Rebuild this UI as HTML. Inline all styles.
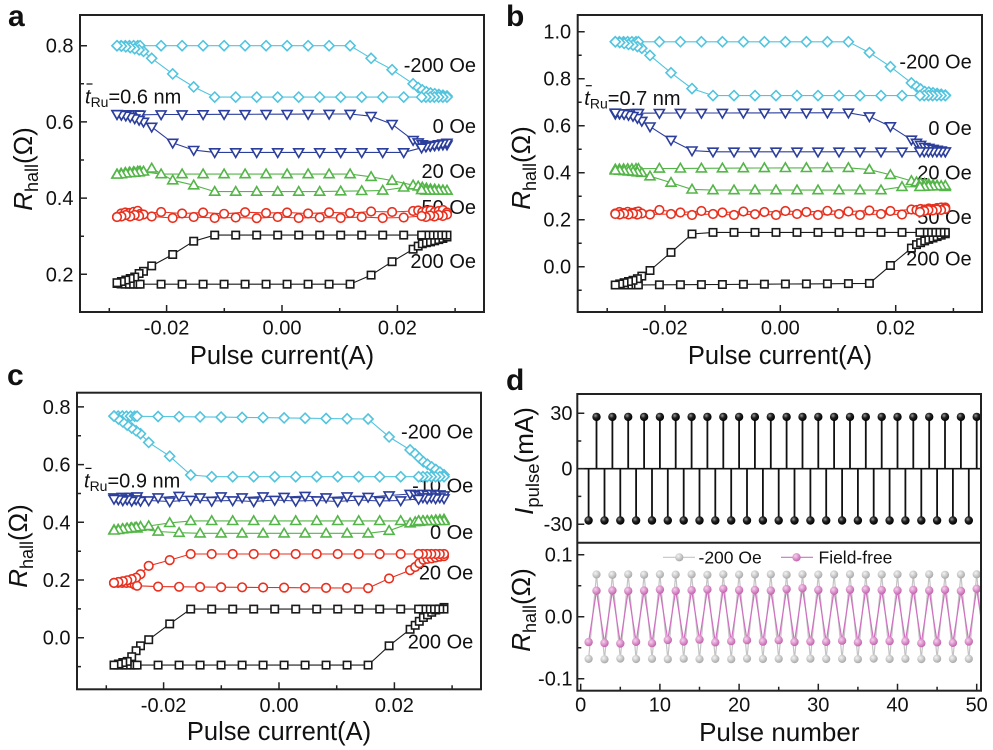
<!DOCTYPE html>
<html><head><meta charset="utf-8">
<style>
body{margin:0;background:#fff}
svg{display:block}
text{font-family:"Liberation Sans",Arial,sans-serif;fill:#111}
</style></head>
<body>
<svg width="993" height="750" viewBox="0 0 993 750" xmlns="http://www.w3.org/2000/svg">
<defs>
 <radialGradient id="gk" cx="0.38" cy="0.35" r="0.65"><stop offset="0" stop-color="#9a9a9a"/><stop offset="0.45" stop-color="#222"/><stop offset="1" stop-color="#000"/></radialGradient>
 <radialGradient id="gg" cx="0.38" cy="0.35" r="0.65"><stop offset="0" stop-color="#f4f4f4"/><stop offset="1" stop-color="#a9a9a9"/></radialGradient>
 <radialGradient id="gp" cx="0.38" cy="0.35" r="0.65"><stop offset="0" stop-color="#f6d2ee"/><stop offset="1" stop-color="#c462ae"/></radialGradient>
 <clipPath id="cpd"><rect x="577.3" y="542.7" width="403.7" height="148"/></clipPath>
 <marker id="mD" markerUnits="userSpaceOnUse" markerWidth="14" markerHeight="14" refX="7" refY="7" overflow="visible"><path d="M7 2L12 7L7 12L2 7Z" fill="#fff" stroke="#52c4de" stroke-width="1.6"/></marker>
 <marker id="mV" markerUnits="userSpaceOnUse" markerWidth="14" markerHeight="14" refX="7" refY="7" overflow="visible"><path d="M2 3.4L12 3.4L7 12Z" fill="#fff" stroke="#2c3e9c" stroke-width="1.6"/></marker>
 <marker id="mU" markerUnits="userSpaceOnUse" markerWidth="14" markerHeight="14" refX="7" refY="7" overflow="visible"><path d="M2 10.6L12 10.6L7 2Z" fill="#fff" stroke="#54b548" stroke-width="1.6"/></marker>
 <marker id="mO" markerUnits="userSpaceOnUse" markerWidth="14" markerHeight="14" refX="7" refY="7" overflow="visible"><circle cx="7" cy="7" r="4.3" fill="#fff" stroke="#e8301f" stroke-width="1.6"/></marker>
 <marker id="mS" markerUnits="userSpaceOnUse" markerWidth="14" markerHeight="14" refX="7" refY="7" overflow="visible"><rect x="3.3" y="3.3" width="7.4" height="7.4" fill="#fff" stroke="#1a1a1a" stroke-width="1.6"/></marker>
 <marker id="mK" markerUnits="userSpaceOnUse" markerWidth="12" markerHeight="12" refX="6" refY="6" overflow="visible"><circle cx="6" cy="6" r="4.2" fill="url(#gk)"/></marker>
 <marker id="mG" markerUnits="userSpaceOnUse" markerWidth="12" markerHeight="12" refX="6" refY="6" overflow="visible"><circle cx="6" cy="6" r="4.1" fill="url(#gg)"/></marker>
 <marker id="mP" markerUnits="userSpaceOnUse" markerWidth="12" markerHeight="12" refX="6" refY="6" overflow="visible"><circle cx="6" cy="6" r="4.2" fill="url(#gp)"/></marker>
</defs>
<rect width="993" height="750" fill="#fff"/>

<!-- panel letters -->
<text x="8" y="26" font-size="30" font-weight="bold">a</text>
<text x="506" y="26" font-size="30" font-weight="bold">b</text>
<text x="7" y="385" font-size="30" font-weight="bold">c</text>
<text x="506" y="390" font-size="30" font-weight="bold">d</text>

<!-- Panel A text -->
<g font-size="20" text-anchor="end">
 <text x="73.5" y="52.7">0.8</text>
 <text x="73.5" y="128.9">0.6</text>
 <text x="73.5" y="205.1">0.4</text>
 <text x="73.5" y="281.3">0.2</text>
</g>
<g font-size="20" text-anchor="middle">
 <text x="166.6" y="334.5">-0.02</text>
 <text x="282" y="334.5">0.00</text>
 <text x="397.4" y="334.5">0.02</text>
</g>
<text x="282" y="364" font-size="25.5" text-anchor="middle">Pulse current(A)</text>
<text transform="translate(32,169) rotate(-90)" text-anchor="middle" font-size="26"><tspan font-style="italic">R</tspan><tspan font-size="18" dy="6">hall</tspan><tspan dy="-6">(Ω)</tspan></text>
<g font-size="20" text-anchor="end">
 <text x="476" y="72">-200 Oe</text>
 <text x="476" y="133">0 Oe</text>
 <text x="476" y="178">20 Oe</text>
 <text x="476" y="214">50 Oe</text>
 <text x="476" y="268">200 Oe</text>
</g>
<text x="85" y="103.3" font-size="20"><tspan font-style="italic">t</tspan><tspan font-size="14" dy="3.5">Ru</tspan><tspan dy="-3.5">=0.6 nm</tspan></text>
<line x1="86.5" y1="84" x2="92.5" y2="84" stroke="#111" stroke-width="1.2"/>

<!-- Panel B text -->
<g font-size="20" text-anchor="end">
 <text x="571.2" y="38.7">1.0</text>
 <text x="571.2" y="85.7">0.8</text>
 <text x="571.2" y="132.7">0.6</text>
 <text x="571.2" y="179.7">0.4</text>
 <text x="571.2" y="226.7">0.2</text>
 <text x="571.2" y="273.7">0.0</text>
</g>
<g font-size="20" text-anchor="middle">
 <text x="664.9" y="334.5">-0.02</text>
 <text x="780.3" y="334.5">0.00</text>
 <text x="895.7" y="334.5">0.02</text>
</g>
<text x="780" y="364" font-size="25.5" text-anchor="middle">Pulse current(A)</text>
<text transform="translate(530,168) rotate(-90)" text-anchor="middle" font-size="26"><tspan font-style="italic">R</tspan><tspan font-size="18" dy="6">hall</tspan><tspan dy="-6">(Ω)</tspan></text>
<g font-size="20" text-anchor="end">
 <text x="971.7" y="68.3">-200 Oe</text>
 <text x="971.7" y="135">0 Oe</text>
 <text x="971.7" y="179.3">20 Oe</text>
 <text x="971.7" y="224">50 Oe</text>
 <text x="971.7" y="265.7">200 Oe</text>
</g>
<text x="584.3" y="105" font-size="20"><tspan font-style="italic">t</tspan><tspan font-size="14" dy="3.5">Ru</tspan><tspan dy="-3.5">=0.7 nm</tspan></text>
<line x1="585.8" y1="85.7" x2="591.8" y2="85.7" stroke="#111" stroke-width="1.2"/>

<!-- Panel C text -->
<g font-size="20" text-anchor="end">
 <text x="70.5" y="413.9">0.8</text>
 <text x="70.5" y="471.6">0.6</text>
 <text x="70.5" y="529.3">0.4</text>
 <text x="70.5" y="587">0.2</text>
 <text x="70.5" y="644.7">0.0</text>
</g>
<g font-size="20" text-anchor="middle">
 <text x="163.6" y="711.8">-0.02</text>
 <text x="279" y="711.8">0.00</text>
 <text x="394.4" y="711.8">0.02</text>
</g>
<text x="279" y="740" font-size="25.5" text-anchor="middle">Pulse current(A)</text>
<text transform="translate(27,546) rotate(-90)" text-anchor="middle" font-size="26"><tspan font-style="italic">R</tspan><tspan font-size="18" dy="6">hall</tspan><tspan dy="-6">(Ω)</tspan></text>
<g font-size="20" text-anchor="end">
 <text x="473.3" y="438.3">-200 Oe</text>
 <text x="473.3" y="492.7">-10 Oe</text>
 <text x="473.3" y="539">0 Oe</text>
 <text x="473.3" y="579.3">20 Oe</text>
 <text x="473.3" y="648.3">200 Oe</text>
</g>
<text x="84" y="487.7" font-size="20"><tspan font-style="italic">t</tspan><tspan font-size="14" dy="3.5">Ru</tspan><tspan dy="-3.5">=0.9 nm</tspan></text>
<line x1="85.5" y1="468.4" x2="91.5" y2="468.4" stroke="#111" stroke-width="1.2"/>

<!-- Panel D text -->
<g font-size="20" text-anchor="end">
 <text x="572.5" y="420.2">30</text>
 <text x="572.5" y="475.7">0</text>
 <text x="572.5" y="531.2">-30</text>
 <text x="572.5" y="561.7">0.1</text>
 <text x="572.5" y="623.7">0.0</text>
 <text x="572.5" y="685.7">-0.1</text>
</g>
<g font-size="20" text-anchor="middle">
 <text x="580.7" y="711.5">0</text>
 <text x="659.9" y="711.5">10</text>
 <text x="739.1" y="711.5">20</text>
 <text x="818.3" y="711.5">30</text>
 <text x="897.5" y="711.5">40</text>
 <text x="976.7" y="711.5">50</text>
</g>
<text x="779.3" y="741" font-size="26" text-anchor="middle">Pulse number</text>
<text transform="translate(533,461) rotate(-90)" text-anchor="middle" font-size="26"><tspan font-style="italic">I</tspan><tspan font-size="18.5" dy="6">pulse</tspan><tspan dy="-6">(mA)</tspan></text>
<text transform="translate(530,610) rotate(-90)" text-anchor="middle" font-size="26"><tspan font-style="italic">R</tspan><tspan font-size="18" dy="6">hall</tspan><tspan dy="-6">(Ω)</tspan></text>

<!-- ===== DATA ===== -->
<g fill="none" stroke-width="1.1">
<!-- Panel A -->
<polyline stroke="#52c4de" marker-start="url(#mD)" marker-mid="url(#mD)" marker-end="url(#mD)" points="117.0,45.7 121.1,45.7 125.3,45.7 129.4,45.7 133.6,45.7 137.7,45.7 140.1,45.7 161.1,45.7 182.1,45.7 203.1,45.7 224.1,45.7 245.1,45.7 266.1,45.7 287.1,45.7 308.1,45.7 329.1,45.7 350.1,45.7 371.1,58.3 392.1,69.7 413.1,83.8 418.2,87.6 422.3,89.9 426.4,91.8 430.5,93.0 434.7,93.7 438.8,94.5 442.9,95.2 447.0,96.0 447.0,97.1 442.8,97.1 438.6,97.1 434.3,97.1 430.1,97.1 425.9,97.1 421.6,97.1 403.7,97.1 382.7,97.1 361.7,97.1 340.7,97.1 319.7,97.1 298.7,97.1 277.7,97.1 256.7,97.1 235.7,97.1 214.7,97.1 193.7,86.9 172.7,73.9 151.7,58.3 143.5,51.4 139.1,49.9 134.7,48.7 130.2,47.6 125.8,46.8 121.4,46.1 117.0,45.7"/>
<polyline stroke="#2c3e9c" marker-start="url(#mV)" marker-mid="url(#mV)" marker-end="url(#mV)" points="117.0,114.3 121.1,114.5 125.3,114.5 129.4,114.5 133.6,114.5 137.7,114.5 140.1,114.8 161.1,114.5 182.1,114.5 203.1,114.4 224.1,114.3 245.1,114.3 266.1,114.2 287.1,114.2 308.1,114.1 329.1,114.0 350.1,114.0 371.1,116.2 392.1,124.2 413.1,140.2 418.2,142.5 422.3,144.4 426.4,145.9 430.5,145.9 434.7,145.5 438.8,145.1 442.9,144.8 447.0,144.8 447.0,142.9 442.8,143.6 438.6,144.4 434.3,145.1 430.1,145.9 425.9,146.7 421.6,147.8 403.7,152.4 382.7,152.4 361.7,152.4 340.7,152.4 319.7,152.4 298.7,152.4 277.7,152.4 256.7,152.4 235.7,152.4 214.7,152.4 193.7,150.1 172.7,142.9 151.7,126.9 143.5,121.9 139.1,120.0 134.7,118.5 130.2,117.0 125.8,115.8 121.4,115.0 117.0,114.3"/>
<polyline stroke="#54b548" marker-start="url(#mU)" marker-mid="url(#mU)" marker-end="url(#mU)" points="117.0,174.1 121.1,173.3 125.3,172.6 129.4,172.2 133.6,171.8 137.7,171.4 140.1,171.4 161.1,174.1 182.1,174.1 203.1,174.1 224.1,174.1 245.1,174.1 266.1,174.1 287.1,174.1 308.1,174.1 329.1,174.1 350.1,174.1 371.1,176.8 392.1,180.6 413.1,185.2 418.2,186.3 422.3,187.4 426.4,188.2 430.5,189.0 434.7,189.2 438.8,189.7 442.9,190.1 447.0,190.5 447.0,190.5 442.8,190.5 438.6,190.5 434.3,190.5 430.1,190.5 425.9,190.5 421.6,190.0 403.7,187.4 382.7,190.5 361.7,190.9 340.7,191.2 319.7,191.6 298.7,191.6 277.7,191.6 256.7,191.6 235.7,191.6 214.7,191.6 193.7,185.2 172.7,180.2 151.7,168.4 143.5,171.4 139.1,172.2 134.7,172.6 130.2,173.0 125.8,173.3 121.4,174.1 117.0,174.5"/>
<polyline stroke="#e8301f" marker-start="url(#mO)" marker-mid="url(#mO)" marker-end="url(#mO)" points="117.0,217.0 121.1,213.5 125.3,212.5 129.4,213.0 133.6,211.8 137.7,210.8 140.1,214.0 161.1,212.0 182.1,213.5 203.1,212.5 224.1,213.8 245.1,212.2 266.1,213.0 287.1,212.5 308.1,213.5 329.1,212.4 350.1,213.0 371.1,211.5 392.1,212.0 413.1,211.0 418.2,210.5 422.3,212.0 426.4,211.0 430.5,210.5 434.7,212.0 438.8,211.0 442.9,210.0 447.0,212.5 447.0,214.5 442.8,216.0 438.6,215.0 434.3,216.5 430.1,215.5 425.9,217.0 421.6,216.0 403.7,217.5 382.7,218.0 361.7,217.0 340.7,218.0 319.7,217.5 298.7,218.0 277.7,217.0 256.7,218.2 235.7,217.5 214.7,218.0 193.7,217.0 172.7,218.0 151.7,216.5 143.5,214.5 139.1,216.0 134.7,215.0 130.2,216.5 125.8,215.0 121.4,216.5 117.0,217.0"/>
<polyline stroke="#1a1a1a" marker-start="url(#mS)" marker-mid="url(#mS)" marker-end="url(#mS)" points="117.0,283.5 121.1,284.0 125.3,284.2 129.4,284.2 133.6,284.2 137.7,284.2 140.1,284.2 161.1,284.2 182.1,284.2 203.1,284.2 224.1,284.2 245.1,284.2 266.1,284.2 287.1,284.2 308.1,284.2 329.1,284.2 350.1,284.2 371.1,275.1 392.1,261.7 413.1,249.2 418.2,246.1 422.3,243.8 426.4,242.7 430.5,241.9 434.7,240.8 438.8,239.6 442.9,238.5 447.0,237.0 447.0,235.1 442.8,235.1 438.6,235.1 434.3,235.1 430.1,235.1 425.9,235.1 421.6,235.1 403.7,235.1 382.7,235.1 361.7,235.1 340.7,235.1 319.7,235.1 298.7,235.1 277.7,235.1 256.7,235.1 235.7,235.1 214.7,235.1 193.7,241.2 172.7,254.5 151.7,265.9 143.5,271.3 139.1,273.5 134.7,277.0 130.2,278.5 125.8,280.0 121.4,281.5 117.0,282.7"/>

<!-- Panel B -->
<polyline stroke="#52c4de" marker-start="url(#mD)" marker-mid="url(#mD)" marker-end="url(#mD)" points="615.3,41.8 619.4,41.8 623.6,41.8 627.7,41.8 631.9,41.8 636.0,41.8 638.4,41.8 659.4,41.8 680.4,41.8 701.4,41.8 722.4,41.8 743.4,41.8 764.4,41.8 785.4,41.8 806.4,41.8 827.4,41.8 848.4,41.8 869.4,52.6 890.4,66.7 911.4,82.9 916.5,86.5 920.6,89.0 924.7,91.6 928.8,92.1 933.0,92.8 937.1,93.5 941.2,94.2 945.3,95.1 945.3,95.6 941.1,95.6 936.9,95.6 932.6,95.6 928.4,95.6 924.2,95.6 919.9,95.6 902.0,95.6 881.0,95.6 860.0,95.6 839.0,95.6 818.0,95.6 797.0,95.6 776.0,95.6 755.0,95.6 734.0,95.6 713.0,95.6 692.0,88.6 671.0,72.8 650.0,55.4 641.8,48.2 637.4,46.5 633.0,45.1 628.5,44.4 624.1,43.4 619.7,42.5 615.3,41.8"/>
<polyline stroke="#2c3e9c" marker-start="url(#mV)" marker-mid="url(#mV)" marker-end="url(#mV)" points="615.3,113.9 619.4,113.7 623.6,113.5 627.7,113.4 631.9,113.3 636.0,113.2 638.4,113.2 659.4,113.1 680.4,113.0 701.4,113.0 722.4,113.0 743.4,112.9 764.4,112.9 785.4,112.8 806.4,112.8 827.4,112.8 848.4,112.8 869.4,116.5 890.4,126.4 911.4,139.8 916.5,142.9 920.6,145.0 924.7,147.1 928.8,148.0 933.0,149.0 937.1,149.9 941.2,150.6 945.3,151.6 945.3,151.6 941.1,151.6 936.9,151.6 932.6,151.6 928.4,151.6 924.2,151.6 919.9,151.6 902.0,151.8 881.0,151.8 860.0,151.8 839.0,151.8 818.0,151.8 797.0,151.8 776.0,151.8 755.0,151.8 734.0,151.8 713.0,151.8 692.0,150.6 671.0,140.0 650.0,126.6 641.8,121.0 637.4,118.2 633.0,116.1 628.5,115.1 624.1,114.2 619.7,113.5 615.3,112.8"/>
<polyline stroke="#54b548" marker-start="url(#mU)" marker-mid="url(#mU)" marker-end="url(#mU)" points="615.3,169.2 619.4,169.1 623.6,169.0 627.7,168.9 631.9,168.8 636.0,168.7 638.4,168.7 659.4,168.5 680.4,168.4 701.4,168.3 722.4,168.2 743.4,168.1 764.4,168.0 785.4,167.9 806.4,167.9 827.4,167.8 848.4,167.8 869.4,169.6 890.4,174.8 911.4,180.9 916.5,182.1 920.6,182.8 924.7,183.5 928.8,184.2 933.0,184.9 937.1,185.4 941.2,186.1 945.3,186.8 945.3,185.6 941.1,185.8 936.9,186.0 932.6,186.2 928.4,186.4 924.2,186.6 919.9,186.8 902.0,186.8 881.0,190.1 860.0,190.1 839.0,190.1 818.0,190.1 797.0,190.1 776.0,190.1 755.0,190.1 734.0,190.1 713.0,190.1 692.0,189.4 671.0,182.6 650.0,176.2 641.8,172.7 637.4,172.2 633.0,171.7 628.5,171.3 624.1,171.0 619.7,170.6 615.3,170.4"/>
<polyline stroke="#e8301f" marker-start="url(#mO)" marker-mid="url(#mO)" marker-end="url(#mO)" points="615.3,213.5 619.4,212.0 623.6,213.0 627.7,211.8 631.9,212.8 636.0,212.0 638.4,211.5 659.4,210.0 680.4,212.5 701.4,211.0 722.4,212.5 743.4,211.5 764.4,212.0 785.4,211.0 806.4,212.0 827.4,210.8 848.4,211.5 869.4,210.5 890.4,211.0 911.4,209.5 916.5,210.0 920.6,209.0 924.7,209.5 928.8,208.5 933.0,209.0 937.1,208.0 941.2,207.5 945.3,207.5 945.3,209.0 941.1,210.0 936.9,209.5 932.6,210.5 928.4,210.0 924.2,211.0 919.9,212.0 902.0,214.5 881.0,214.0 860.0,215.0 839.0,214.0 818.0,215.0 797.0,214.0 776.0,215.0 755.0,214.2 734.0,215.0 713.0,214.0 692.0,215.0 671.0,214.0 650.0,214.5 641.8,213.5 637.4,214.5 633.0,213.5 628.5,214.5 624.1,213.5 619.7,214.5 615.3,214.0"/>
<polyline stroke="#1a1a1a" marker-start="url(#mS)" marker-mid="url(#mS)" marker-end="url(#mS)" points="615.3,285.0 619.4,285.0 623.6,285.0 627.7,285.0 631.9,285.0 636.0,285.0 638.4,284.9 659.4,284.8 680.4,284.7 701.4,284.6 722.4,284.5 743.4,284.3 764.4,284.2 785.4,284.0 806.4,283.9 827.4,283.8 848.4,283.6 869.4,283.4 890.4,265.5 911.4,248.1 916.5,244.6 920.6,242.7 924.7,240.9 928.8,239.4 933.0,238.0 937.1,236.6 941.2,235.2 945.3,233.8 945.3,232.4 941.1,232.4 936.9,232.4 932.6,232.4 928.4,232.4 924.2,232.4 919.9,232.4 902.0,232.4 881.0,232.4 860.0,232.4 839.0,232.4 818.0,232.4 797.0,232.4 776.0,232.4 755.0,232.4 734.0,232.4 713.0,232.4 692.0,234.0 671.0,252.4 650.0,270.5 641.8,276.1 637.4,278.7 633.0,280.3 628.5,281.5 624.1,282.7 619.7,283.9 615.3,285.0"/>

<!-- Panel C -->
<polyline stroke="#52c4de" marker-start="url(#mD)" marker-mid="url(#mD)" marker-end="url(#mD)" points="114.0,416.1 118.1,416.1 122.3,416.1 126.4,416.2 130.6,416.2 134.7,416.3 137.1,416.3 158.1,416.5 179.1,416.7 200.1,416.9 221.1,417.1 242.1,417.4 263.1,417.6 284.1,417.9 305.1,418.2 326.1,418.5 347.1,418.8 368.1,419.0 389.1,436.9 410.1,449.9 415.2,453.9 419.3,458.0 423.4,461.7 427.5,464.3 431.7,466.9 435.8,469.5 439.9,472.1 444.0,474.7 444.0,476.7 439.8,476.7 435.6,476.7 431.3,476.7 427.1,476.7 422.9,476.7 418.6,476.7 400.7,476.7 379.7,476.7 358.7,476.7 337.7,476.7 316.7,476.7 295.7,476.7 274.7,476.7 253.7,476.7 232.7,476.7 211.7,476.7 190.7,475.0 169.7,456.2 148.7,442.4 140.5,433.7 136.1,430.8 131.7,428.0 127.2,425.1 122.8,421.9 118.4,419.0 114.0,416.1"/>
<polyline stroke="#2c3e9c" marker-start="url(#mV)" marker-mid="url(#mV)" marker-end="url(#mV)" points="114.0,497.5 118.1,499.0 122.3,497.0 126.4,498.5 130.6,497.0 134.7,498.0 137.1,496.5 158.1,497.5 179.1,496.0 200.1,497.5 221.1,496.5 242.1,497.5 263.1,496.5 284.1,497.0 305.1,496.0 326.1,497.5 347.1,496.5 368.1,497.0 389.1,495.5 410.1,494.0 415.2,494.5 419.3,495.5 423.4,494.0 427.5,495.0 431.7,494.0 435.8,495.5 439.9,494.5 444.0,495.5 444.0,498.5 439.8,497.5 435.6,498.5 431.3,497.5 427.1,498.5 422.9,497.5 418.6,499.0 400.7,500.5 379.7,501.0 358.7,500.0 337.7,501.5 316.7,500.5 295.7,501.0 274.7,500.0 253.7,501.5 232.7,500.5 211.7,501.0 190.7,500.0 169.7,501.5 148.7,500.5 140.5,501.0 136.1,499.5 131.7,501.0 127.2,499.5 122.8,500.5 118.4,499.5 114.0,499.0"/>
<polyline stroke="#54b548" marker-start="url(#mU)" marker-mid="url(#mU)" marker-end="url(#mU)" points="114.0,529.8 118.1,529.5 122.3,529.2 126.4,528.9 130.6,528.4 134.7,528.1 137.1,528.4 158.1,531.5 179.1,532.7 200.1,533.3 221.1,533.3 242.1,533.3 263.1,533.3 284.1,533.3 305.1,533.3 326.1,533.3 347.1,533.3 368.1,533.3 389.1,530.7 410.1,523.2 415.2,522.0 419.3,521.7 423.4,521.2 427.5,520.9 431.7,520.6 435.8,520.0 439.9,519.7 444.0,519.4 444.0,520.9 439.8,520.9 435.6,520.9 431.3,520.9 427.1,520.9 422.9,520.9 418.6,520.9 400.7,520.9 379.7,520.9 358.7,520.9 337.7,520.9 316.7,520.9 295.7,520.9 274.7,520.9 253.7,520.9 232.7,520.9 211.7,520.9 190.7,520.9 169.7,522.9 148.7,526.0 140.5,526.6 136.1,527.2 131.7,527.8 127.2,528.4 122.8,528.9 118.4,529.8 114.0,530.4"/>
<polyline stroke="#e8301f" marker-start="url(#mO)" marker-mid="url(#mO)" marker-end="url(#mO)" points="114.0,582.9 118.1,582.9 122.3,582.9 126.4,582.9 130.6,582.9 134.7,584.6 137.1,585.8 158.1,586.6 179.1,586.8 200.1,587.0 221.1,587.2 242.1,587.3 263.1,587.5 284.1,587.6 305.1,587.8 326.1,587.9 347.1,588.0 368.1,588.1 389.1,578.5 410.1,570.2 415.2,567.0 419.3,563.3 423.4,559.8 427.5,558.9 431.7,558.4 435.8,557.5 439.9,556.6 444.0,556.1 444.0,554.0 439.8,554.0 435.6,554.0 431.3,554.0 427.1,554.0 422.9,554.0 418.6,554.0 400.7,554.0 379.7,554.0 358.7,554.0 337.7,554.0 316.7,554.0 295.7,554.0 274.7,554.0 253.7,554.0 232.7,554.0 211.7,554.0 190.7,554.0 169.7,560.1 148.7,565.9 140.5,574.2 136.1,577.7 131.7,579.1 127.2,580.3 122.8,581.2 118.4,582.0 114.0,582.9"/>
<polyline stroke="#1a1a1a" marker-start="url(#mS)" marker-mid="url(#mS)" marker-end="url(#mS)" points="114.0,665.1 118.1,665.1 122.3,665.1 126.4,665.1 130.6,665.1 134.7,665.1 137.1,665.1 158.1,665.1 179.1,665.1 200.1,665.1 221.1,665.1 242.1,665.1 263.1,665.1 284.1,665.1 305.1,665.1 326.1,665.1 347.1,665.1 368.1,665.1 389.1,645.8 410.1,629.3 415.2,625.3 419.3,621.3 423.4,617.5 427.5,614.9 431.7,612.3 435.8,610.0 439.9,608.9 444.0,607.4 444.0,609.1 439.8,609.1 435.6,609.1 431.3,609.1 427.1,609.1 422.9,609.1 418.6,609.1 400.7,609.1 379.7,609.1 358.7,609.1 337.7,609.1 316.7,609.1 295.7,609.1 274.7,609.1 253.7,609.1 232.7,609.1 211.7,609.1 190.7,609.1 169.7,623.9 148.7,639.7 140.5,645.8 136.1,650.7 131.7,656.7 127.2,661.4 122.8,662.5 118.4,664.0 114.0,665.1"/>
</g>

<!-- Panel D top: baseline, stems, balls -->
<line x1="577.3" y1="468.7" x2="981" y2="468.7" stroke="#111" stroke-width="1.6"/>
<path fill="none" stroke="#111" stroke-width="1.8" d="M588.6 468.7V520.5M596.5 468.7V416.9M604.5 468.7V520.5M612.4 468.7V416.9M620.3 468.7V520.5M628.2 468.7V416.9M636.1 468.7V520.5M644.1 468.7V416.9M652.0 468.7V520.5M659.9 468.7V416.9M667.8 468.7V520.5M675.7 468.7V416.9M683.7 468.7V520.5M691.6 468.7V416.9M699.5 468.7V520.5M707.4 468.7V416.9M715.3 468.7V520.5M723.3 468.7V416.9M731.2 468.7V520.5M739.1 468.7V416.9M747.0 468.7V520.5M754.9 468.7V416.9M762.9 468.7V520.5M770.8 468.7V416.9M778.7 468.7V520.5M786.6 468.7V416.9M794.5 468.7V520.5M802.5 468.7V416.9M810.4 468.7V520.5M818.3 468.7V416.9M826.2 468.7V520.5M834.1 468.7V416.9M842.1 468.7V520.5M850.0 468.7V416.9M857.9 468.7V520.5M865.8 468.7V416.9M873.7 468.7V520.5M881.7 468.7V416.9M889.6 468.7V520.5M897.5 468.7V416.9M905.4 468.7V520.5M913.3 468.7V416.9M921.3 468.7V520.5M929.2 468.7V416.9M937.1 468.7V520.5M945.0 468.7V416.9M952.9 468.7V520.5M960.9 468.7V416.9M968.8 468.7V520.5M976.7 468.7V416.9"/>
<polyline fill="none" stroke="none" marker-start="url(#mK)" marker-mid="url(#mK)" marker-end="url(#mK)" points="588.6,520.5 596.5,416.9 604.5,520.5 612.4,416.9 620.3,520.5 628.2,416.9 636.1,520.5 644.1,416.9 652.0,520.5 659.9,416.9 667.8,520.5 675.7,416.9 683.7,520.5 691.6,416.9 699.5,520.5 707.4,416.9 715.3,520.5 723.3,416.9 731.2,520.5 739.1,416.9 747.0,520.5 754.9,416.9 762.9,520.5 770.8,416.9 778.7,520.5 786.6,416.9 794.5,520.5 802.5,416.9 810.4,520.5 818.3,416.9 826.2,520.5 834.1,416.9 842.1,520.5 850.0,416.9 857.9,520.5 865.8,416.9 873.7,520.5 881.7,416.9 889.6,520.5 897.5,416.9 905.4,520.5 913.3,416.9 921.3,520.5 929.2,416.9 937.1,520.5 945.0,416.9 952.9,520.5 960.9,416.9 968.8,520.5 976.7,416.9"/>

<!-- Panel D bottom -->
<g clip-path="url(#cpd)" fill="none" stroke-width="1.2">
<line x1="976.7" y1="574.4" x2="984.6" y2="659.0" stroke="#c4c4c4"/>
<polyline stroke="#c4c4c4" marker-start="url(#mG)" marker-mid="url(#mG)" marker-end="url(#mG)" points="588.6,658.9 596.5,574.5 604.5,659.3 612.4,574.8 620.3,658.6 628.2,574.3 636.1,659.0 644.1,574.7 652.0,658.8 659.9,574.4 667.8,659.2 675.7,574.6 683.7,658.7 691.6,574.3 699.5,659.1 707.4,574.8 715.3,658.9 723.3,574.4 731.2,659.2 739.1,574.6 747.0,658.6 754.9,574.5 762.9,659.0 770.8,574.3 778.7,658.8 786.6,574.7 794.5,659.1 802.5,574.4 810.4,658.7 818.3,574.6 826.2,659.0 834.1,574.5 842.1,658.9 850.0,574.3 857.9,659.2 865.8,574.7 873.7,658.6 881.7,574.5 889.6,659.0 897.5,574.4 905.4,658.8 913.3,574.6 921.3,659.1 929.2,574.3 937.1,658.7 945.0,574.8 952.9,659.0 960.9,574.5 968.8,658.9 976.7,574.4"/>
<line x1="976.7" y1="588.8" x2="984.6" y2="642.0" stroke="#d070c0"/>
<polyline stroke="#d070c0" marker-start="url(#mP)" marker-mid="url(#mP)" marker-end="url(#mP)" points="588.6,642.1 596.5,590.7 604.5,643.0 612.4,590.5 620.3,643.5 628.2,590.9 636.1,641.8 644.1,590.6 652.0,643.2 659.9,589.6 667.8,640.0 675.7,590.8 683.7,641.5 691.6,590.2 699.5,639.6 707.4,589.4 715.3,642.3 723.3,588.8 731.2,641.2 739.1,590.1 747.0,640.2 754.9,590.0 762.9,641.6 770.8,590.6 778.7,640.2 786.6,589.1 794.5,642.0 802.5,588.2 810.4,641.5 818.3,590.0 826.2,641.8 834.1,590.8 842.1,640.7 850.0,589.6 857.9,642.3 865.8,589.5 873.7,641.0 881.7,590.1 889.6,641.1 897.5,590.5 905.4,641.3 913.3,589.9 921.3,643.2 929.2,590.5 937.1,642.3 945.0,589.8 952.9,642.8 960.9,591.0 968.8,641.5 976.7,588.8"/>
</g>

<!-- legend -->
<line x1="663" y1="557.3" x2="695" y2="557.3" stroke="#c4c4c4" stroke-width="1.2"/>
<circle cx="679.3" cy="557.3" r="4.1" fill="url(#gg)"/>
<text x="698.5" y="563.5" font-size="17.5">-200 Oe</text>
<line x1="781" y1="557.3" x2="813" y2="557.3" stroke="#d070c0" stroke-width="1.2"/>
<circle cx="796.5" cy="557.3" r="4.2" fill="url(#gp)"/>
<text x="818.5" y="563.5" font-size="17.5">Field-free</text>

<!-- frames -->
<g fill="none" stroke="#222" stroke-width="2">
 <rect x="80" y="15" width="404" height="297"/>
 <rect x="577.7" y="15" width="404.3" height="297"/>
 <rect x="77" y="392.7" width="404" height="296.6"/>
 <rect x="577.3" y="394" width="403.7" height="296.7"/>
 <line x1="577.3" y1="542.7" x2="981" y2="542.7"/>
</g>

<!-- ticks -->
<path fill="none" stroke="#222" stroke-width="1.5" d="M80 45.7h7M80 121.9h7M80 198.1h7M80 274.3h7M80 83.8h4M80 160h4M80 236.2h4M166.6 312v-7M282 312v-7M397.4 312v-7M109.3 312v-4M224.3 312v-4M339.7 312v-4M455.1 312v-4
M577.7 266.7h7M577.7 219.7h7M577.7 172.7h7M577.7 125.7h7M577.7 78.7h7M577.7 31.7h7M577.7 290.2h4M577.7 243.2h4M577.7 196.2h4M577.7 149.2h4M577.7 102.2h4M577.7 55.2h4M664.9 312v-7M780.3 312v-7M895.7 312v-7M607.2 312v-4M722.6 312v-4M838 312v-4M953.4 312v-4
M77 637.7h7M77 580h7M77 522.3h7M77 464.6h7M77 406.9h7M77 666.6h4M77 608.9h4M77 551.2h4M77 493.5h4M77 435.8h4M163.6 689.3v-7M279 689.3v-7M394.4 689.3v-7M106.3 689.3v-4M221.3 689.3v-4M336.7 689.3v-4M452.1 689.3v-4
M577.3 413.2h7M577.3 468.7h7M577.3 524.2h7M577.3 441h4M577.3 496.4h4M577.3 554.7h7M577.3 616.7h7M577.3 678.7h7M577.3 585.7h4M577.3 647.7h4M580.7 690.7v-7M659.9 690.7v-7M739.1 690.7v-7M818.3 690.7v-7M897.5 690.7v-7M976.7 690.7v-7M620.3 690.7v-4M699.5 690.7v-4M778.7 690.7v-4M857.9 690.7v-4M937.1 690.7v-4"/>
</svg>
</body></html>
